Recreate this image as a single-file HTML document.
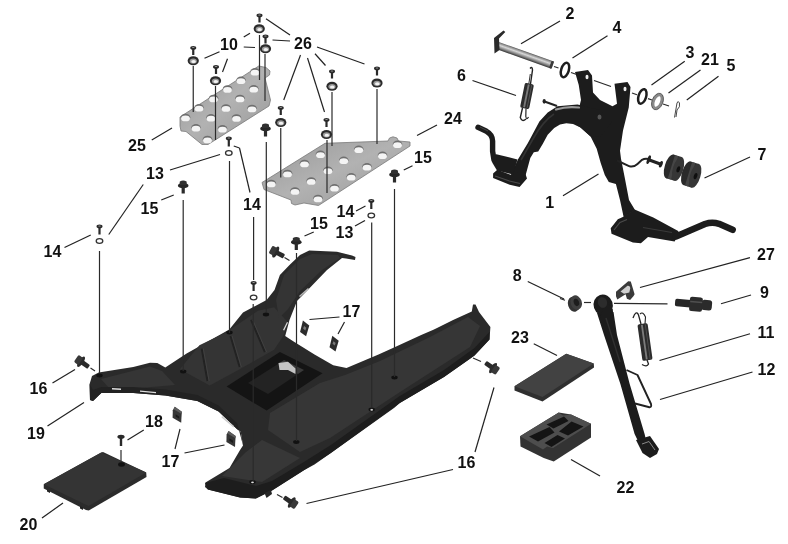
<!DOCTYPE html>
<html><head><meta charset="utf-8"><title>Floor panel and stands</title>
<style>
html,body{margin:0;padding:0;background:#fff;}
body{width:788px;height:544px;overflow:hidden;}
svg{display:block;filter:blur(0.35px);}
text{font-family:"Liberation Sans",Arial,Helvetica,sans-serif;font-weight:bold;fill:#111;}
</style></head><body>
<svg width="788" height="544" viewBox="0 0 788 544">
<rect width="788" height="544" fill="#fff"/>
<defs>
<linearGradient id="pl" x1="0" y1="0" x2="1" y2="1">
<stop offset="0" stop-color="#959595"/><stop offset="0.5" stop-color="#b2b2b2"/><stop offset="1" stop-color="#979797"/>
</linearGradient>
<linearGradient id="pin" x1="0" y1="0" x2="0" y2="1">
<stop offset="0" stop-color="#555"/><stop offset="0.12" stop-color="#8a8a8a"/><stop offset="0.4" stop-color="#d8d8d8"/><stop offset="0.7" stop-color="#8a8a8a"/><stop offset="1" stop-color="#333"/>
</linearGradient>
</defs>
<polygon points="89.6,384 92,376 98.7,372.5 133.3,367 150,362.7 157.3,363 165.3,367.5 186.6,353.6 229.3,329.6 243,312.5 266.6,300 274.5,290 279.9,275 289.5,265 300,255 309.2,250.5 337,251.7 352,255.5 355.5,257 355,260 346,258.5 342,258 327,270 309.2,288.6 297,301 289.5,320 285.2,336 293.2,341.3 314.5,354.6 333.2,365.3 346.5,368 378.5,354.6 394,347.5 421.2,335 434,329.5 453.1,320 471.8,311.5 473,304.5 475.5,304.5 479,312 490.4,327 489.5,339.5 474.5,355.6 469,359.5 444,377 399.8,403 394,408 330.5,453.2 314.5,464.5 303.9,470.2 272,490.5 255.9,498.6 240,497.5 207.9,489.5 205,487 205.5,482.5 229.5,468 239.9,450.2 243,445.5 240.75,431.75 237.2,429.2 218.6,411.6 197.3,401 165.3,395.6 133.3,393 101.3,393 93,401 90,400" fill="#2a2a2a" />
<polygon points="101,379 150,366.5 162,371 175,385 140,388 110,389" fill="#353535" />
<polygon points="199.4,345.2 225.9,332.5 258,310.7 274.1,307.2 287.9,322.2 283.3,336 274.1,349.8 237.4,370.5 209.8,385.4 179.9,369.3" fill="#343434" />
<line x1="201.7" y1="348.6" x2="207.5" y2="381" stroke="#222" stroke-width="2" />
<line x1="203.29999999999998" y1="348.6" x2="209.1" y2="381" stroke="#444" stroke-width="0.8" />
<line x1="230.5" y1="336" x2="239.7" y2="367" stroke="#222" stroke-width="2" />
<line x1="232.1" y1="336" x2="241.29999999999998" y2="367" stroke="#444" stroke-width="0.8" />
<line x1="251.1" y1="319.9" x2="264.9" y2="352" stroke="#222" stroke-width="2" />
<line x1="252.7" y1="319.9" x2="266.5" y2="352" stroke="#444" stroke-width="0.8" />
<polygon points="284,275 300,259 312,254 338,255 340,258 322,270 300,291 288,309 279,318 276,300" fill="#343434" />
<polygon points="270,413 320,383 345,375 380,361 430,337 468,317 480,326 470,347 400,392 330,438 300,452 268,430" fill="#363636" />
<polygon points="246,452 262,440 300,458 262,482 222,476" fill="#373737" />
<polygon points="205,483 224,478 256,486 272,481 303.9,462 330.5,445.2 399.8,396 444,370 474.5,348 489.5,332 489.5,339.5 474.5,355.6 444,377 399.8,403 330.5,453.2 303.9,470.2 272,490.5 255.9,498.6 240,497.5 207.9,489.5" fill="#1d1d1d" />
<polygon points="89.6,384 93,390 101.3,387 133.3,387 165.3,389.6 197.3,395 218.6,405.6 237.2,423.2 243,445.5 240.75,431.75 237.2,429.2 218.6,411.6 197.3,401 165.3,395.6 133.3,393 101.3,393 93,401 90,400" fill="#222" />
<polygon points="264.5,493 271,490 272,494 266.5,498" fill="#262626" />
<polygon points="226.6,386.6 279.9,352 322.5,373.3 266.6,410.6" fill="#141414" />
<polygon points="248,383 278,364 298,374 268,394" fill="#232323" />
<polygon points="278,364 284,360 304,370 298,374" fill="#3a3a3a" />
<polygon points="278.5,363 288,361.8 295.5,368.4 295.5,374 288,370 279.5,370" fill="#c4c4c4" />
<polygon points="112,388 121,388.6 121,390 112,389.4" fill="#ddd" />
<polygon points="140,390.5 156,392 156,393.3 140,391.8" fill="#ddd" />
<polygon points="222,416 234,426 233.5,427.5 221.5,417.5" fill="#ccc" />
<polygon points="283,330 287,322 288,322.5 284.2,330.5" fill="#ddd" />
<polygon points="299,296 308,288 309,289 300,297" fill="#bbb" />
<ellipse cx="99.5" cy="375.5" rx="3.2" ry="1.9" fill="#111"/>
<ellipse cx="183.2" cy="371.5" rx="3.2" ry="1.9" fill="#111"/>
<ellipse cx="229.5" cy="332.5" rx="3.2" ry="1.9" fill="#111"/>
<ellipse cx="266" cy="314.5" rx="3.2" ry="1.9" fill="#111"/>
<ellipse cx="296.3" cy="442" rx="3.2" ry="1.9" fill="#111"/>
<ellipse cx="252.5" cy="482" rx="3.2" ry="1.9" fill="#111"/>
<ellipse cx="371.7" cy="409.5" rx="3.2" ry="1.9" fill="#111"/>
<ellipse cx="394.5" cy="377.5" rx="3.2" ry="1.9" fill="#111"/>
<ellipse cx="252.5" cy="482.3" rx="1.4" ry="0.9" fill="#ddd"/>
<ellipse cx="371.7" cy="409.8" rx="1.4" ry="0.9" fill="#ddd"/>
<polygon points="43.75,484.25 101.25,452.5 103,452 146.25,472.5 146.5,477 88.75,510.5 86,510 43.75,488.5" fill="#2b2b2b" />
<polygon points="43.75,484.25 101.25,452.5 146.25,472.5 88.5,506" fill="#343434" />
<ellipse cx="121.5" cy="464.5" rx="3.4" ry="2.2" fill="#111"/>
<polygon points="47,489.5 50,491 50,493 47,491.5" fill="#222" />
<polygon points="80,506 83,507.5 83,510 80,508.5" fill="#222" />
<polygon points="514.5,386.25 566.25,353.75 593.75,363.5 594,367.5 542.5,401.5 514.5,390.5" fill="#2f2f2f" />
<polygon points="514.5,386.25 566.25,353.75 593.75,363.5 542.5,397" fill="#424242" />
<polygon points="520,436.25 558.75,412.5 571,414.5 591,423.75 591,437.5 553.75,461.5 543.75,458 520.5,446.5" fill="#333" />
<polygon points="520,436.25 558.75,412.5 563,415.5 571,414.5 591,423.75 553,448 547,446.5 543,449.5" fill="#4e4e4e" />
<polygon points="546.5,424.5 564,416.5 568.5,421 553.5,428.5" fill="#141414" />
<polygon points="571.5,421.5 583.5,426.5 568,435.5 559,431.5" fill="#141414" />
<polygon points="529,436.5 549.5,427 554.5,432.5 538,441.5" fill="#141414" />
<polygon points="544.5,443 557.5,435 565,438.5 551.5,447" fill="#141414" />
<polygon points="180,117 258.75,66 266,67.5 270,71 269.5,75 265,78 270.5,100 269,106 208,144.5 202,144.5 186,131.5 181,131 180,126" fill="url(#pl)" stroke="#7a7a7a" stroke-width="0.8"/>
<ellipse cx="185.5" cy="117.3" rx="4.8" ry="3.5" fill="#6f6f6f"/>
<ellipse cx="185.5" cy="118.4" rx="4.4" ry="2.9" fill="#f4f4f4"/>
<ellipse cx="199" cy="107.6" rx="4.8" ry="3.5" fill="#6f6f6f"/>
<ellipse cx="199" cy="108.7" rx="4.4" ry="2.9" fill="#f4f4f4"/>
<ellipse cx="213.5" cy="98.3" rx="4.8" ry="3.5" fill="#6f6f6f"/>
<ellipse cx="213.5" cy="99.4" rx="4.4" ry="2.9" fill="#f4f4f4"/>
<ellipse cx="227.5" cy="88.8" rx="4.8" ry="3.5" fill="#6f6f6f"/>
<ellipse cx="227.5" cy="89.9" rx="4.4" ry="2.9" fill="#f4f4f4"/>
<ellipse cx="241" cy="80.1" rx="4.8" ry="3.5" fill="#6f6f6f"/>
<ellipse cx="241" cy="81.2" rx="4.4" ry="2.9" fill="#f4f4f4"/>
<ellipse cx="255" cy="71.6" rx="4.8" ry="3.5" fill="#6f6f6f"/>
<ellipse cx="255" cy="72.7" rx="4.4" ry="2.9" fill="#f4f4f4"/>
<ellipse cx="196" cy="127.60000000000001" rx="4.8" ry="3.5" fill="#6f6f6f"/>
<ellipse cx="196" cy="128.70000000000002" rx="4.4" ry="2.9" fill="#f4f4f4"/>
<ellipse cx="211" cy="117.6" rx="4.8" ry="3.5" fill="#6f6f6f"/>
<ellipse cx="211" cy="118.7" rx="4.4" ry="2.9" fill="#f4f4f4"/>
<ellipse cx="226" cy="107.8" rx="4.8" ry="3.5" fill="#6f6f6f"/>
<ellipse cx="226" cy="108.9" rx="4.4" ry="2.9" fill="#f4f4f4"/>
<ellipse cx="240" cy="98.3" rx="4.8" ry="3.5" fill="#6f6f6f"/>
<ellipse cx="240" cy="99.4" rx="4.4" ry="2.9" fill="#f4f4f4"/>
<ellipse cx="253.75" cy="88.6" rx="4.8" ry="3.5" fill="#6f6f6f"/>
<ellipse cx="253.75" cy="89.7" rx="4.4" ry="2.9" fill="#f4f4f4"/>
<ellipse cx="207.5" cy="139.3" rx="4.8" ry="3.5" fill="#6f6f6f"/>
<ellipse cx="207.5" cy="140.4" rx="4.4" ry="2.9" fill="#f4f4f4"/>
<ellipse cx="222.5" cy="128.60000000000002" rx="4.8" ry="3.5" fill="#6f6f6f"/>
<ellipse cx="222.5" cy="129.70000000000002" rx="4.4" ry="2.9" fill="#f4f4f4"/>
<ellipse cx="236.5" cy="117.8" rx="4.8" ry="3.5" fill="#6f6f6f"/>
<ellipse cx="236.5" cy="118.9" rx="4.4" ry="2.9" fill="#f4f4f4"/>
<ellipse cx="252" cy="108.3" rx="4.8" ry="3.5" fill="#6f6f6f"/>
<ellipse cx="252" cy="109.4" rx="4.4" ry="2.9" fill="#f4f4f4"/>
<polygon points="262,182.5 325,143.3 388,141 389.5,138 393,136.8 397,138 398.5,141 410,142 410,146 318.5,205.5 304,203 295,205 291.5,203.5 291,200 264,189.5" fill="url(#pl)" stroke="#7a7a7a" stroke-width="0.8"/>
<ellipse cx="271.25" cy="183.3" rx="4.8" ry="3.5" fill="#6f6f6f"/>
<ellipse cx="271.25" cy="184.4" rx="4.4" ry="2.9" fill="#f4f4f4"/>
<ellipse cx="287.5" cy="173.3" rx="4.8" ry="3.5" fill="#6f6f6f"/>
<ellipse cx="287.5" cy="174.4" rx="4.4" ry="2.9" fill="#f4f4f4"/>
<ellipse cx="304.5" cy="163.3" rx="4.8" ry="3.5" fill="#6f6f6f"/>
<ellipse cx="304.5" cy="164.4" rx="4.4" ry="2.9" fill="#f4f4f4"/>
<ellipse cx="320.5" cy="154.10000000000002" rx="4.8" ry="3.5" fill="#6f6f6f"/>
<ellipse cx="320.5" cy="155.20000000000002" rx="4.4" ry="2.9" fill="#f4f4f4"/>
<ellipse cx="358.75" cy="149.10000000000002" rx="4.8" ry="3.5" fill="#6f6f6f"/>
<ellipse cx="358.75" cy="150.20000000000002" rx="4.4" ry="2.9" fill="#f4f4f4"/>
<ellipse cx="397.5" cy="144.10000000000002" rx="4.8" ry="3.5" fill="#6f6f6f"/>
<ellipse cx="397.5" cy="145.20000000000002" rx="4.4" ry="2.9" fill="#f4f4f4"/>
<ellipse cx="295" cy="190.8" rx="4.8" ry="3.5" fill="#6f6f6f"/>
<ellipse cx="295" cy="191.9" rx="4.4" ry="2.9" fill="#f4f4f4"/>
<ellipse cx="311.25" cy="180.8" rx="4.8" ry="3.5" fill="#6f6f6f"/>
<ellipse cx="311.25" cy="181.9" rx="4.4" ry="2.9" fill="#f4f4f4"/>
<ellipse cx="328" cy="170.10000000000002" rx="4.8" ry="3.5" fill="#6f6f6f"/>
<ellipse cx="328" cy="171.20000000000002" rx="4.4" ry="2.9" fill="#f4f4f4"/>
<ellipse cx="343.75" cy="160.10000000000002" rx="4.8" ry="3.5" fill="#6f6f6f"/>
<ellipse cx="343.75" cy="161.20000000000002" rx="4.4" ry="2.9" fill="#f4f4f4"/>
<ellipse cx="382.5" cy="155.10000000000002" rx="4.8" ry="3.5" fill="#6f6f6f"/>
<ellipse cx="382.5" cy="156.20000000000002" rx="4.4" ry="2.9" fill="#f4f4f4"/>
<ellipse cx="318" cy="198.3" rx="4.8" ry="3.5" fill="#6f6f6f"/>
<ellipse cx="318" cy="199.4" rx="4.4" ry="2.9" fill="#f4f4f4"/>
<ellipse cx="334.5" cy="187.60000000000002" rx="4.8" ry="3.5" fill="#6f6f6f"/>
<ellipse cx="334.5" cy="188.70000000000002" rx="4.4" ry="2.9" fill="#f4f4f4"/>
<ellipse cx="351.25" cy="176.60000000000002" rx="4.8" ry="3.5" fill="#6f6f6f"/>
<ellipse cx="351.25" cy="177.70000000000002" rx="4.4" ry="2.9" fill="#f4f4f4"/>
<ellipse cx="367" cy="166.60000000000002" rx="4.8" ry="3.5" fill="#6f6f6f"/>
<ellipse cx="367" cy="167.70000000000002" rx="4.4" ry="2.9" fill="#f4f4f4"/>
<line x1="193.25" y1="66" x2="193.25" y2="112" stroke="#2a2a2a" stroke-width="1.2" />
<line x1="215.5" y1="86" x2="215.5" y2="140" stroke="#2a2a2a" stroke-width="1.2" />
<line x1="259.5" y1="35" x2="259.5" y2="80" stroke="#2a2a2a" stroke-width="1.2" />
<line x1="265" y1="54" x2="265" y2="101" stroke="#2a2a2a" stroke-width="1.2" />
<line x1="280.75" y1="128" x2="280.75" y2="177.5" stroke="#2a2a2a" stroke-width="1.2" />
<line x1="327" y1="140" x2="327" y2="193" stroke="#2a2a2a" stroke-width="1.2" />
<line x1="332" y1="92" x2="332" y2="146" stroke="#2a2a2a" stroke-width="1.2" />
<line x1="377" y1="89" x2="377" y2="144" stroke="#2a2a2a" stroke-width="1.2" />
<line x1="99.5" y1="251" x2="99.5" y2="373" stroke="#2a2a2a" stroke-width="1.2" />
<line x1="183.2" y1="200" x2="183.2" y2="371" stroke="#2a2a2a" stroke-width="1.2" />
<line x1="229.5" y1="161" x2="229.5" y2="333" stroke="#2a2a2a" stroke-width="1.2" />
<line x1="266.3" y1="142" x2="266.3" y2="312" stroke="#2a2a2a" stroke-width="1.2" />
<line x1="253.6" y1="217" x2="253.6" y2="280" stroke="#2a2a2a" stroke-width="1.2" />
<line x1="253.2" y1="304" x2="253.2" y2="481" stroke="#2a2a2a" stroke-width="1.2" />
<line x1="296.5" y1="253" x2="296.5" y2="441" stroke="#2a2a2a" stroke-width="1.2" />
<line x1="371.7" y1="222.5" x2="371.7" y2="408.5" stroke="#2a2a2a" stroke-width="1.2" />
<line x1="394.5" y1="189" x2="394.5" y2="377" stroke="#2a2a2a" stroke-width="1.2" />
<line x1="121" y1="450" x2="121" y2="461" stroke="#2a2a2a" stroke-width="1.2" />
<ellipse cx="193.25" cy="60.75" rx="5.6" ry="4.6" fill="#2b2b2b"/>
<ellipse cx="193.25" cy="61.05" rx="3.6" ry="2.6" fill="#9a9a9a"/>
<ellipse cx="193.55" cy="61.55" rx="2.3" ry="1.5" fill="#f2f2f2"/>
<ellipse cx="215.5" cy="80.75" rx="5.6" ry="4.6" fill="#2b2b2b"/>
<ellipse cx="215.5" cy="81.05" rx="3.6" ry="2.6" fill="#9a9a9a"/>
<ellipse cx="215.8" cy="81.55" rx="2.3" ry="1.5" fill="#f2f2f2"/>
<ellipse cx="259.25" cy="28.75" rx="5.6" ry="4.6" fill="#2b2b2b"/>
<ellipse cx="259.25" cy="29.05" rx="3.6" ry="2.6" fill="#9a9a9a"/>
<ellipse cx="259.55" cy="29.55" rx="2.3" ry="1.5" fill="#f2f2f2"/>
<ellipse cx="265.5" cy="48.75" rx="5.6" ry="4.6" fill="#2b2b2b"/>
<ellipse cx="265.5" cy="49.05" rx="3.6" ry="2.6" fill="#9a9a9a"/>
<ellipse cx="265.8" cy="49.55" rx="2.3" ry="1.5" fill="#f2f2f2"/>
<ellipse cx="280.75" cy="122.5" rx="5.6" ry="4.6" fill="#2b2b2b"/>
<ellipse cx="280.75" cy="122.8" rx="3.6" ry="2.6" fill="#9a9a9a"/>
<ellipse cx="281.05" cy="123.3" rx="2.3" ry="1.5" fill="#f2f2f2"/>
<ellipse cx="332" cy="86.25" rx="5.6" ry="4.6" fill="#2b2b2b"/>
<ellipse cx="332" cy="86.55" rx="3.6" ry="2.6" fill="#9a9a9a"/>
<ellipse cx="332.3" cy="87.05" rx="2.3" ry="1.5" fill="#f2f2f2"/>
<ellipse cx="377" cy="83" rx="5.6" ry="4.6" fill="#2b2b2b"/>
<ellipse cx="377" cy="83.3" rx="3.6" ry="2.6" fill="#9a9a9a"/>
<ellipse cx="377.3" cy="83.8" rx="2.3" ry="1.5" fill="#f2f2f2"/>
<ellipse cx="326.5" cy="134.5" rx="5.6" ry="4.6" fill="#2b2b2b"/>
<ellipse cx="326.5" cy="134.8" rx="3.6" ry="2.6" fill="#9a9a9a"/>
<ellipse cx="326.8" cy="135.3" rx="2.3" ry="1.5" fill="#f2f2f2"/>
<ellipse cx="193.25" cy="47.9" rx="3" ry="1.8" fill="#2a2a2a"/>
<ellipse cx="193.25" cy="47.5" rx="1.3" ry="0.6" fill="#999"/>
<rect x="192.15" y="48.5" width="2.2" height="6.5" fill="#2a2a2a"/>
<ellipse cx="216" cy="66.9" rx="3" ry="1.8" fill="#2a2a2a"/>
<ellipse cx="216" cy="66.5" rx="1.3" ry="0.6" fill="#999"/>
<rect x="214.9" y="67.5" width="2.2" height="6.5" fill="#2a2a2a"/>
<ellipse cx="259.5" cy="15.4" rx="3" ry="1.8" fill="#2a2a2a"/>
<ellipse cx="259.5" cy="15" rx="1.3" ry="0.6" fill="#999"/>
<rect x="258.4" y="16" width="2.2" height="6.5" fill="#2a2a2a"/>
<ellipse cx="265.5" cy="36.4" rx="3" ry="1.8" fill="#2a2a2a"/>
<ellipse cx="265.5" cy="36" rx="1.3" ry="0.6" fill="#999"/>
<rect x="264.4" y="37" width="2.2" height="6.5" fill="#2a2a2a"/>
<ellipse cx="280.75" cy="107.9" rx="3" ry="1.8" fill="#2a2a2a"/>
<ellipse cx="280.75" cy="107.5" rx="1.3" ry="0.6" fill="#999"/>
<rect x="279.65" y="108.5" width="2.2" height="6.5" fill="#2a2a2a"/>
<ellipse cx="332" cy="71.4" rx="3" ry="1.8" fill="#2a2a2a"/>
<ellipse cx="332" cy="71" rx="1.3" ry="0.6" fill="#999"/>
<rect x="330.9" y="72" width="2.2" height="6.5" fill="#2a2a2a"/>
<ellipse cx="377" cy="68.4" rx="3" ry="1.8" fill="#2a2a2a"/>
<ellipse cx="377" cy="68" rx="1.3" ry="0.6" fill="#999"/>
<rect x="375.9" y="69" width="2.2" height="6.5" fill="#2a2a2a"/>
<ellipse cx="326.5" cy="119.9" rx="3" ry="1.8" fill="#2a2a2a"/>
<ellipse cx="326.5" cy="119.5" rx="1.3" ry="0.6" fill="#999"/>
<rect x="325.4" y="120.5" width="2.2" height="6.5" fill="#2a2a2a"/>
<ellipse cx="228.8" cy="138.4" rx="3" ry="1.8" fill="#2a2a2a"/>
<ellipse cx="228.8" cy="138" rx="1.3" ry="0.6" fill="#999"/>
<rect x="227.70000000000002" y="139" width="2.2" height="7.5" fill="#2a2a2a"/>
<ellipse cx="228.8" cy="153" rx="3.3" ry="2.4" fill="none" stroke="#333" stroke-width="1.3"/>
<ellipse cx="99.5" cy="226.4" rx="3" ry="1.8" fill="#2a2a2a"/>
<ellipse cx="99.5" cy="226" rx="1.3" ry="0.6" fill="#999"/>
<rect x="98.4" y="227" width="2.2" height="7.5" fill="#2a2a2a"/>
<ellipse cx="99.5" cy="241" rx="3.3" ry="2.4" fill="none" stroke="#333" stroke-width="1.3"/>
<ellipse cx="371.3" cy="200.9" rx="3" ry="1.8" fill="#2a2a2a"/>
<ellipse cx="371.3" cy="200.5" rx="1.3" ry="0.6" fill="#999"/>
<rect x="370.2" y="201.5" width="2.2" height="7.5" fill="#2a2a2a"/>
<ellipse cx="371.3" cy="215.5" rx="3.3" ry="2.4" fill="none" stroke="#333" stroke-width="1.3"/>
<ellipse cx="253.6" cy="282.9" rx="3" ry="1.8" fill="#2a2a2a"/>
<ellipse cx="253.6" cy="282.5" rx="1.3" ry="0.6" fill="#999"/>
<rect x="252.5" y="283.5" width="2.2" height="7.5" fill="#2a2a2a"/>
<ellipse cx="253.6" cy="297.5" rx="3.3" ry="2.4" fill="none" stroke="#333" stroke-width="1.3"/>
<ellipse cx="121" cy="436.8" rx="3.6" ry="2.1" fill="#2a2a2a"/>
<rect x="119.8" y="437" width="2.4" height="9" fill="#2a2a2a"/>
<ellipse cx="265.5" cy="128.7" rx="5.3" ry="2.6" fill="#262626"/>
<path d="M261.9,128.0 L262.1,124.5 Q265.5,122.5 268.9,124.5 L269.1,128.0 Z" fill="#303030"/>
<rect x="263.9" y="129.5" width="3.2" height="7" fill="#2a2a2a"/>
<ellipse cx="183.2" cy="185.7" rx="5.3" ry="2.6" fill="#262626"/>
<path d="M179.6,185.0 L179.79999999999998,181.5 Q183.2,179.5 186.6,181.5 L186.79999999999998,185.0 Z" fill="#303030"/>
<rect x="181.6" y="186.5" width="3.2" height="7" fill="#2a2a2a"/>
<ellipse cx="394.5" cy="174.7" rx="5.3" ry="2.6" fill="#262626"/>
<path d="M390.9,174.0 L391.1,170.5 Q394.5,168.5 397.9,170.5 L398.1,174.0 Z" fill="#303030"/>
<rect x="392.9" y="175.5" width="3.2" height="7" fill="#2a2a2a"/>
<ellipse cx="296.3" cy="242.2" rx="5.3" ry="2.6" fill="#262626"/>
<path d="M292.7,241.5 L292.90000000000003,238 Q296.3,236 299.7,238 L299.90000000000003,241.5 Z" fill="#303030"/>
<rect x="294.7" y="243" width="3.2" height="7" fill="#2a2a2a"/>
<g transform="translate(81.8,362.2) rotate(35) scale(1.13)">
<rect x="-0.5" y="-2.1" width="8" height="4.2" rx="1" fill="#2a2a2a"/>
<ellipse cx="-0.8" cy="0" rx="2.1" ry="5.4" fill="#2b2b2b"/>
<rect x="-6" y="-3.8" width="5" height="7.6" rx="1.4" fill="#383838"/>
</g>
<g transform="translate(276.5,252.5) rotate(28) scale(1.13)">
<rect x="-0.5" y="-2.1" width="8" height="4.2" rx="1" fill="#2a2a2a"/>
<ellipse cx="-0.8" cy="0" rx="2.1" ry="5.4" fill="#2b2b2b"/>
<rect x="-6" y="-3.8" width="5" height="7.6" rx="1.4" fill="#383838"/>
</g>
<g transform="translate(291,502) rotate(214) scale(1.13)">
<rect x="-0.5" y="-2.1" width="8" height="4.2" rx="1" fill="#2a2a2a"/>
<ellipse cx="-0.8" cy="0" rx="2.1" ry="5.4" fill="#2b2b2b"/>
<rect x="-6" y="-3.8" width="5" height="7.6" rx="1.4" fill="#383838"/>
</g>
<g transform="translate(492.3,367.6) rotate(215) scale(1.13)">
<rect x="-0.5" y="-2.1" width="8" height="4.2" rx="1" fill="#2a2a2a"/>
<ellipse cx="-0.8" cy="0" rx="2.1" ry="5.4" fill="#2b2b2b"/>
<rect x="-6" y="-3.8" width="5" height="7.6" rx="1.4" fill="#383838"/>
</g>
<g transform="translate(177.2,414.8)">
<polygon points="-2.4,-8 4.6,-3 4,8 -4.6,3 -4.4,-4.5" fill="#353535"/>
<polygon points="-2.4,-8 4.6,-3 4.5,-0.8 -3.6,-5.6" fill="#5c5c5c"/>
<polygon points="-1.6,-0.6 2,1.6 2,4 -1.6,1.8" fill="#1a1a1a"/>
</g>
<g transform="translate(231,439)">
<polygon points="-2.4,-8 4.6,-3 4,8 -4.6,3 -4.4,-4.5" fill="#353535"/>
<polygon points="-2.4,-8 4.6,-3 4.5,-0.8 -3.6,-5.6" fill="#5c5c5c"/>
<polygon points="-1.6,-0.6 2,1.6 2,4 -1.6,1.8" fill="#1a1a1a"/>
</g>
<g transform="translate(304.7,328.4)">
<polygon points="-1.8,-7.8 4.6,-2.8 1.4,7.8 -4.6,3.6" fill="#2b2b2b"/>
<polygon points="-0.6,-2.4 1.6,-0.6 0.6,2 -1.6,0.2" fill="#777"/>
</g>
<g transform="translate(334.1,343.6)">
<polygon points="-1.8,-7.8 4.6,-2.8 1.4,7.8 -4.6,3.6" fill="#2b2b2b"/>
<polygon points="-0.6,-2.4 1.6,-0.6 0.6,2 -1.6,0.2" fill="#777"/>
</g>
<line x1="90.5" y1="368" x2="95" y2="371" stroke="#2a2a2a" stroke-width="1.2" />
<line x1="284.5" y1="257.5" x2="289.5" y2="260.5" stroke="#2a2a2a" stroke-width="1.2" />
<line x1="277" y1="494.5" x2="282.5" y2="497.5" stroke="#2a2a2a" stroke-width="1.2" />
<line x1="473" y1="358" x2="481" y2="361.5" stroke="#2a2a2a" stroke-width="1.2" />
<polygon points="575,72 588,70 592,75.5 593,92.5 600,100 612.5,106.25 617,103.75 614.5,83.75 627.5,82 630.5,87 628.75,107.5 623,130.5 620,150.7 621,158.8 625,179 629,200 635,210 623.75,217.5 620,200 615.9,184.1 608.8,182.1 604.8,175 600.7,162.9 596.7,148.7 590.6,136.6 580.5,127.4 575,124 581,100 578.75,85" fill="#1c1c1c" />
<polygon points="510.5,176 517.9,159.6 527.9,143.1 539.4,121.6 547.7,112.5 557.5,106.25 577.5,104.5 600,110 612,122 600,137 590.6,136.6 580.5,127.4 573,124 566.3,123.2 560,124.5 554.2,128 547.7,134.8 542.7,143.9 538.2,151.6 533.8,152.2 530.3,158 525.4,176" fill="#1c1c1c" />
<polygon points="493.1,173.6 497.3,169.8 510.5,174.8 524.5,171.2 527,178.6 519.6,186.9 509.7,184.7 493.1,178.1" fill="#1c1c1c" />
<polygon points="491.5,156 496.4,154.2 517.5,159.4 513,174.5 497,170.5 492.5,163" fill="#1c1c1c" />
<path d="M478,127.3 L486.5,131.3 Q492.4,134.5 492.6,141 L492.6,151.3 L494,160" fill="none" stroke="#1c1c1c" stroke-width="5.4" stroke-linecap="round" stroke-linejoin="round"/>
<polygon points="610.7,228.2 617.8,219.3 624,216.6 634.6,209.5 653.3,217.5 678.2,230.9 679,233.5 674.6,241.5 648,237 640.9,243.3 632.9,242.6 611.5,233.8" fill="#1c1c1c" />
<path d="M676,236.5 L705,224 Q712,221.6 719,223.8 L732.6,229.8" fill="none" stroke="#1c1c1c" stroke-width="6.6" stroke-linecap="round" stroke-linejoin="round"/>
<path d="M556,109.5 Q567,106 579,107.5" fill="none" stroke="#9a9a9a" stroke-width="2.2" stroke-linecap="round"/>
<path d="M521,160 L533,139 Q543,121 554,114" fill="none" stroke="#333" stroke-width="1.6"/>
<path d="M614,230 L620,222.5 L627,219.5" fill="none" stroke="#4a4a4a" stroke-width="1.2"/>
<path d="M643,227.5 L672,232.5" fill="none" stroke="#3a3a3a" stroke-width="1.2"/>
<path d="M495,176 L509.5,181 L520,183.5" fill="none" stroke="#4a4a4a" stroke-width="1.2"/>
<path d="M480,127 L488,131" fill="none" stroke="#444" stroke-width="1"/>
<ellipse cx="587" cy="77" rx="1.5" ry="2.2" fill="#eee"/>
<ellipse cx="625" cy="89" rx="1.5" ry="2.2" fill="#eee"/>
<ellipse cx="599.5" cy="117" rx="2" ry="2.6" fill="#555"/>
<line x1="544.5" y1="101.5" x2="557" y2="106" stroke="#222" stroke-width="2.2" />
<ellipse cx="544.2" cy="101.3" rx="1.6" ry="2.4" fill="#222"/>
<path d="M617,160.5 L629.5,166.3 Q634,167.3 637.5,164 L642,159.8 Q645,158 648.5,159" fill="none" stroke="#222" stroke-width="2"/>
<g transform="translate(654.8,162) rotate(20.5)"><rect x="-6.5" y="-1.5" width="13" height="3" fill="#222"/><ellipse cx="-6.5" cy="0" rx="1.6" ry="4.6" fill="#222"/><ellipse cx="6.5" cy="0" rx="1.7" ry="3.4" fill="#222"/></g>
<g transform="translate(674.2,167.8) rotate(17)"><rect x="-4.6" y="-12.4" width="8.6" height="24.8" fill="#333"/><ellipse cx="-4.6" cy="0" rx="5" ry="12.4" fill="#2a2a2a"/><rect x="-3" y="-12.2" width="3.4" height="24.4" fill="#454545"/><ellipse cx="4" cy="0" rx="5.2" ry="12.4" fill="#363636"/><ellipse cx="4.4" cy="0.2" rx="1.7" ry="3.2" fill="#0f0f0f"/></g>
<g transform="translate(691.4,174.6) rotate(17)"><rect x="-4.6" y="-12.4" width="8.6" height="24.8" fill="#333"/><ellipse cx="-4.6" cy="0" rx="5" ry="12.4" fill="#2a2a2a"/><rect x="-3" y="-12.2" width="3.4" height="24.4" fill="#454545"/><ellipse cx="4" cy="0" rx="5.2" ry="12.4" fill="#363636"/><ellipse cx="4.4" cy="0.2" rx="1.7" ry="3.2" fill="#0f0f0f"/></g>
<g transform="translate(497.5,45.5) rotate(19.6)">
<rect x="0" y="-3.8" width="58.5" height="7.6" fill="url(#pin)"/>
<rect x="56" y="-3.8" width="2.8" height="7.6" rx="1" fill="#3a3a3a"/>
</g>
<polygon points="494,38 503.5,30.5 505.3,32 499,38.5 499.5,50 494.5,53.5" fill="#2a2a2a" />
<ellipse cx="565" cy="70" rx="3.8" ry="7.5" transform="rotate(17 565 70)" fill="none" stroke="#1e1e1e" stroke-width="2.5"/>
<ellipse cx="642.3" cy="96.4" rx="3.8" ry="7.5" transform="rotate(17 642.3 96.4)" fill="none" stroke="#1e1e1e" stroke-width="2.5"/>
<ellipse cx="657.5" cy="101.5" rx="4" ry="7.2" transform="rotate(22 657.5 101.5)" fill="none" stroke="#8a8a8a" stroke-width="3"/>
<ellipse cx="657.5" cy="101.5" rx="5.4" ry="8.6" transform="rotate(22 657.5 101.5)" fill="none" stroke="#444" stroke-width="0.7"/>
<line x1="554" y1="66.5" x2="558.5" y2="68" stroke="#2a2a2a" stroke-width="1.2" />
<line x1="571" y1="72.5" x2="576" y2="74.3" stroke="#2a2a2a" stroke-width="1.2" />
<line x1="594" y1="80.5" x2="611" y2="86.5" stroke="#2a2a2a" stroke-width="1.2" />
<line x1="632" y1="93" x2="637" y2="94.7" stroke="#2a2a2a" stroke-width="1.2" />
<line x1="648" y1="98.6" x2="652" y2="100" stroke="#2a2a2a" stroke-width="1.2" />
<line x1="663" y1="104" x2="669" y2="106" stroke="#2a2a2a" stroke-width="1.2" />
<path d="M674.5,117.5 L677,103 Q678,100 679.5,103 Q680.5,107 677,110 L676,117" fill="none" stroke="#333" stroke-width="0.9"/>
<path d="M530.5,84 L532.5,70 Q532.3,66 530,68.5" fill="none" stroke="#222" stroke-width="1.4"/>
<path d="M528.8,84 L530.3,74" fill="none" stroke="#333" stroke-width="1"/>
<g transform="translate(527,96) rotate(11.5)"><rect x="-4.6" y="-12.6" width="9.2" height="25.2" rx="1.8" fill="#2c2c2c"/><rect x="-1.5" y="-11.6" width="1.8" height="23.2" fill="#7a7a7a"/><rect x="2" y="-11.6" width="0.9" height="23.2" fill="#555"/></g>
<path d="M522.5,108 L520.3,117.5 Q522,122.5 526,119" fill="none" stroke="#222" stroke-width="1.4"/>
<path d="M526,108.5 L525.8,116.5 Q526.5,120.5 528.5,117" fill="none" stroke="#222" stroke-width="1.2"/>
<polygon points="597,313 604,335 620.4,384 634.6,434 638,441 646,440 644.6,434 629.7,384 617,335 613.5,312" fill="#1c1c1c" />
<ellipse cx="603.2" cy="305" rx="9.6" ry="10.6" transform="rotate(-18 603.2 305)" fill="#1c1c1c"/>
<polygon points="606,300 612.8,309.5 613.5,318 600,318" fill="#1c1c1c" />
<ellipse cx="602.5" cy="302.5" rx="4.6" ry="5.4" transform="rotate(-18 602.5 302.5)" fill="#2c2c2c"/>
<polygon points="636,440 650,436 659,449 657,454 650,458 642.5,453" fill="#1c1c1c" />
<path d="M642,444 L649,441.5 L655,450" fill="none" stroke="#888" stroke-width="1"/>
<path d="M626.5,370 L637.5,375 L651,404 Q652,408 648.5,407 L635,403.5" fill="none" stroke="#222" stroke-width="1.9" stroke-linejoin="round"/>
<path d="M606,318 L620,362" fill="none" stroke="#303030" stroke-width="1.4"/>
<ellipse cx="573.6" cy="304.3" rx="5.6" ry="7.6" transform="rotate(-18 573.6 304.3)" fill="#333"/>
<ellipse cx="576.2" cy="302.6" rx="5.6" ry="7.4" transform="rotate(-18 576.2 302.6)" fill="#3f3f3f"/>
<ellipse cx="576.4" cy="302.4" rx="2.6" ry="3.8" transform="rotate(-18 576.4 302.4)" fill="#1d1d1d"/>
<polygon points="616,291.7 628.2,281.2 630.8,281.4 634.6,294.3 633.4,296.2 630.1,300.1 626.9,298.8 625.6,294.3 617.3,299.5 616,296.2" fill="#3a3a3a" />
<path d="M620.5,291.5 L627.5,285.8 Q630.3,285.5 630.2,288.5 L629.3,292.5 L624,293.7 Z" fill="#cfcfcf"/>
<g transform="translate(693.5,304) rotate(5)"><rect x="-18.5" y="-3.7" width="17" height="7.4" rx="1.8" fill="#262626"/><rect x="-4" y="-7.2" width="13" height="14.4" rx="2.2" fill="#2b2b2b"/><rect x="8" y="-5.2" width="10.5" height="10.4" rx="2.8" fill="#2b2b2b"/><rect x="-3.5" y="-3" width="12" height="1.5" fill="#505050"/></g>
<line x1="614" y1="303.3" x2="667.5" y2="303.8" stroke="#2a2a2a" stroke-width="1.2" />
<line x1="560" y1="298.5" x2="565" y2="300.3" stroke="#2a2a2a" stroke-width="1.2" />
<line x1="584" y1="302.5" x2="591" y2="302.5" stroke="#2a2a2a" stroke-width="1.2" />
<path d="M641,324 L638.5,315 Q636,309.5 633,318" fill="none" stroke="#222" stroke-width="1.3"/>
<path d="M645,324 L645.5,317 Q643,311 640,314" fill="none" stroke="#222" stroke-width="1.1"/>
<g transform="translate(645,342) rotate(-8)"><rect x="-5.1" y="-18.5" width="10.2" height="37" rx="1.8" fill="#2c2c2c"/><rect x="-1.6" y="-17.5" width="1.8" height="35" fill="#7c7c7c"/><rect x="2.3" y="-17.5" width="0.9" height="35" fill="#505050"/></g>
<path d="M647,360 L648.5,364 Q647,367.5 642,364.5" fill="none" stroke="#222" stroke-width="1.3"/>
<line x1="521" y1="43.75" x2="560" y2="21" stroke="#222" stroke-width="1.2" />
<line x1="572.5" y1="58" x2="607.5" y2="35.75" stroke="#222" stroke-width="1.2" />
<line x1="472.5" y1="80.5" x2="516" y2="95.5" stroke="#222" stroke-width="1.2" />
<line x1="651.5" y1="85" x2="684.75" y2="61.25" stroke="#222" stroke-width="1.2" />
<line x1="668.5" y1="93" x2="700.5" y2="70" stroke="#222" stroke-width="1.2" />
<line x1="686.75" y1="100" x2="718.5" y2="76.25" stroke="#222" stroke-width="1.2" />
<line x1="704.5" y1="178" x2="750" y2="157" stroke="#222" stroke-width="1.2" />
<line x1="563" y1="195.7" x2="598.5" y2="174" stroke="#222" stroke-width="1.2" />
<line x1="640" y1="287.5" x2="750" y2="257.7" stroke="#222" stroke-width="1.2" />
<line x1="721" y1="303.75" x2="751" y2="295" stroke="#222" stroke-width="1.2" />
<line x1="659.5" y1="360.5" x2="750" y2="333.75" stroke="#222" stroke-width="1.2" />
<line x1="660" y1="399.5" x2="752.5" y2="372" stroke="#222" stroke-width="1.2" />
<line x1="533.75" y1="343.75" x2="557" y2="355.5" stroke="#222" stroke-width="1.2" />
<line x1="571" y1="459.5" x2="600" y2="476" stroke="#222" stroke-width="1.2" />
<line x1="417" y1="135.5" x2="437" y2="125" stroke="#222" stroke-width="1.2" />
<line x1="403.75" y1="170" x2="412.5" y2="165.75" stroke="#222" stroke-width="1.2" />
<line x1="290" y1="35" x2="266" y2="18.75" stroke="#222" stroke-width="1.2" />
<line x1="290" y1="41" x2="272.5" y2="40" stroke="#222" stroke-width="1.2" />
<line x1="317" y1="47" x2="364.5" y2="64" stroke="#222" stroke-width="1.2" />
<line x1="315" y1="53.75" x2="325.5" y2="65.5" stroke="#222" stroke-width="1.2" />
<line x1="307.5" y1="58" x2="324.5" y2="112" stroke="#222" stroke-width="1.2" />
<line x1="300.5" y1="55" x2="283.75" y2="100" stroke="#222" stroke-width="1.2" />
<line x1="219.5" y1="51.75" x2="204.5" y2="58.25" stroke="#222" stroke-width="1.2" />
<line x1="227.5" y1="58.75" x2="222.5" y2="72" stroke="#222" stroke-width="1.2" />
<line x1="243.75" y1="37" x2="250" y2="33.25" stroke="#222" stroke-width="1.2" />
<line x1="243.75" y1="47" x2="255" y2="47.5" stroke="#222" stroke-width="1.2" />
<line x1="151.75" y1="140" x2="172" y2="128" stroke="#222" stroke-width="1.2" />
<line x1="170" y1="170" x2="220" y2="154.5" stroke="#222" stroke-width="1.2" />
<line x1="143.25" y1="184.5" x2="108.75" y2="234.5" stroke="#222" stroke-width="1.2" />
<line x1="161.25" y1="200" x2="173.75" y2="195" stroke="#222" stroke-width="1.2" />
<line x1="64.5" y1="247.5" x2="90.75" y2="235" stroke="#222" stroke-width="1.2" />
<line x1="233.75" y1="146" x2="239.5" y2="148" stroke="#222" stroke-width="1.2" />
<line x1="239.5" y1="148" x2="250" y2="192.5" stroke="#222" stroke-width="1.2" />
<line x1="356" y1="211" x2="365.5" y2="206" stroke="#222" stroke-width="1.2" />
<line x1="355" y1="226" x2="365" y2="220.5" stroke="#222" stroke-width="1.2" />
<line x1="304.5" y1="236" x2="313.75" y2="232" stroke="#222" stroke-width="1.2" />
<line x1="52.5" y1="383" x2="75" y2="369.5" stroke="#222" stroke-width="1.2" />
<line x1="47.5" y1="426" x2="84" y2="402.5" stroke="#222" stroke-width="1.2" />
<line x1="42" y1="518" x2="63" y2="503" stroke="#222" stroke-width="1.2" />
<line x1="127.5" y1="440" x2="143.75" y2="430" stroke="#222" stroke-width="1.2" />
<line x1="180" y1="429" x2="175" y2="449" stroke="#222" stroke-width="1.2" />
<line x1="184.5" y1="453" x2="224.5" y2="445" stroke="#222" stroke-width="1.2" />
<line x1="309.5" y1="319.5" x2="339.5" y2="317" stroke="#222" stroke-width="1.2" />
<line x1="344.5" y1="322" x2="338" y2="334" stroke="#222" stroke-width="1.2" />
<line x1="494" y1="387.5" x2="475" y2="452" stroke="#222" stroke-width="1.2" />
<line x1="453" y1="469.5" x2="306.5" y2="503.5" stroke="#222" stroke-width="1.2" />
<line x1="527.75" y1="281.5" x2="564" y2="299" stroke="#222" stroke-width="1.2" />
<text x="565.5" y="18.8" font-size="16">2</text>
<text x="612.5" y="32.8" font-size="16">4</text>
<text x="457.0" y="81.3" font-size="16">6</text>
<text x="685.5" y="58.3" font-size="16">3</text>
<text x="701.0" y="65.3" font-size="16">21</text>
<text x="726.5" y="71.3" font-size="16">5</text>
<text x="757.5" y="159.8" font-size="16">7</text>
<text x="545.3" y="208.0" font-size="16">1</text>
<text x="444.0" y="123.8" font-size="16">24</text>
<text x="414.0" y="163.3" font-size="16">15</text>
<text x="294.0" y="48.8" font-size="16">26</text>
<text x="220.0" y="50.3" font-size="16">10</text>
<text x="128.0" y="151.3" font-size="16">25</text>
<text x="146.0" y="178.8" font-size="16">13</text>
<text x="140.5" y="213.8" font-size="16">15</text>
<text x="43.5" y="257.3" font-size="16">14</text>
<text x="243.0" y="210.3" font-size="16">14</text>
<text x="336.5" y="217.3" font-size="16">14</text>
<text x="335.5" y="237.8" font-size="16">13</text>
<text x="310.0" y="228.8" font-size="16">15</text>
<text x="342.5" y="317.3" font-size="16">17</text>
<text x="161.5" y="467.3" font-size="16">17</text>
<text x="29.5" y="393.8" font-size="16">16</text>
<text x="27.0" y="439.3" font-size="16">19</text>
<text x="145.0" y="426.8" font-size="16">18</text>
<text x="19.5" y="530.3" font-size="16">20</text>
<text x="457.5" y="467.8" font-size="16">16</text>
<text x="616.5" y="492.8" font-size="16">22</text>
<text x="511.0" y="342.8" font-size="16">23</text>
<text x="512.8" y="280.8" font-size="16">8</text>
<text x="757.0" y="259.5" font-size="16">27</text>
<text x="760.0" y="298.3" font-size="16">9</text>
<text x="757.5" y="337.5" font-size="16">11</text>
<text x="757.5" y="375.3" font-size="16">12</text>
</svg>
</body></html>
